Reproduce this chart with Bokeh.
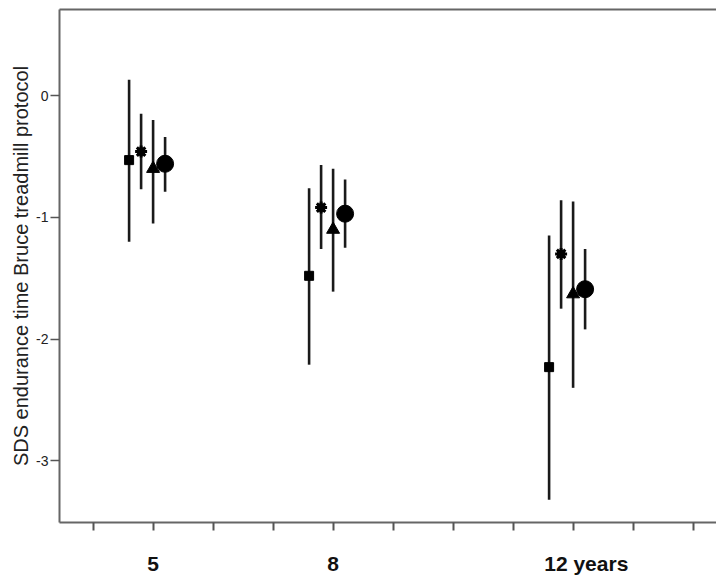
from bokeh.plotting import figure
from bokeh.models import Range1d, FixedTicker, LinearAxis
from bokeh.embed import file_html
from bokeh.resources import INLINE

# ---- data ----
ages = [5, 8, 12]
x_tick_positions = [4, 5, 6, 7, 8, 9, 10, 11, 12, 13, 14]
x_labels = {5: "5", 8: "8", 12.22: "12 years"}
y_ticks = [-3, -2, -1, 0]
y_labels = {-3: "-3", -2: "-2", -1: "-1", 0: "0"}

square_mean = [-0.53, -1.48, -2.23]
square_lo = [-1.20, -2.21, -3.32]
square_hi = [0.13, -0.76, -1.15]

star_mean = [-0.46, -0.92, -1.30]
star_lo = [-0.77, -1.26, -1.75]
star_hi = [-0.15, -0.57, -0.86]

tri_mean = [-0.60, -1.10, -1.63]
tri_lo = [-1.05, -1.61, -2.40]
tri_hi = [-0.20, -0.60, -0.87]

circ_mean = [-0.56, -0.97, -1.59]
circ_lo = [-0.79, -1.25, -1.92]
circ_hi = [-0.34, -0.69, -1.26]

# ---- figure ----
FONT = "Liberation Sans"
p = figure(width=716, height=581, output_backend="svg", toolbar_location=None,
           x_range=Range1d(3.44, 14.39), y_range=Range1d(-3.506, 0.707),
           min_border_top=9, min_border_right=0, min_border_left=59, min_border_bottom=59)
p.grid.visible = False
p.background_fill_color = "white"
p.border_fill_color = "white"
p.outline_line_color = None

xa = p.below[0]
ya = p.left[0]

groups = [
    (square_mean, square_lo, square_hi, -0.4, "square"),
    (star_mean, star_lo, star_hi, -0.2, "star"),
    (tri_mean, tri_lo, tri_hi, 0.0, "triangle"),
    (circ_mean, circ_lo, circ_hi, 0.2, "circle"),
]
for mean, lo, hi, off, kind in groups:
    xs = [a + off for a in ages]
    p.segment(x0=xs, y0=lo, x1=xs, y1=hi, line_color="#1a1a1a", line_width=2.6)
    if kind == "square":
        p.scatter(xs, mean, marker="square", size=9, color="black")
    elif kind == "star":
        p.scatter(xs, mean, marker="circle", size=8, color="black")
        p.scatter(xs, mean, marker="asterisk", size=12, line_color="black", line_width=3)
    elif kind == "triangle":
        p.scatter(xs, mean, marker="triangle", size=13, color="black")
    else:
        p.scatter(xs, mean, marker="circle", size=17, color="black")

# top frame line (axis without ticks or labels)
top = LinearAxis(ticker=FixedTicker(ticks=[]), major_tick_out=0, major_tick_in=0,
                 minor_tick_out=0, minor_tick_in=0,
                 major_label_text_font_size="0px", axis_line_color="#666666",
                 axis_line_width=2, major_label_standoff=0)
p.add_layout(top, "above")

# x axis
xa.ticker = FixedTicker(ticks=list(x_labels.keys()), minor_ticks=x_tick_positions)
xa.major_label_overrides = {k: v for k, v in x_labels.items()}
xa.major_tick_out = 0
xa.major_tick_in = 0
xa.minor_tick_out = 8
xa.minor_tick_in = 0
xa.minor_tick_line_color = "#555555"
xa.minor_tick_line_width = 2
xa.axis_line_color = "#666666"
xa.axis_line_width = 2
xa.major_label_standoff = 21
xa.major_label_text_font = FONT
xa.major_label_text_font_size = "21px"
xa.major_label_text_font_style = "bold"
xa.major_label_text_color = "#111111"

# y axis
ya.ticker = FixedTicker(ticks=y_ticks)
ya.major_label_overrides = {k: v for k, v in y_labels.items()}
ya.major_tick_out = 9
ya.major_tick_in = 0
ya.minor_tick_out = 0
ya.minor_tick_in = 0
ya.major_tick_line_color = "#555555"
ya.major_tick_line_width = 1.5
ya.axis_line_color = "#666666"
ya.axis_line_width = 2
ya.major_label_standoff = 2
ya.major_label_text_font = FONT
ya.major_label_text_font_size = "14px"
ya.major_label_text_font_style = "normal"
ya.major_label_text_color = "#222222"
ya.axis_label = "SDS endurance time Bruce treadmill protocol"
ya.axis_label_text_font = FONT
ya.axis_label_text_font_size = "20px"
ya.axis_label_text_font_style = "normal"
ya.axis_label_text_color = "#222222"
ya.axis_label_standoff = 1

open("out.html", "w").write(file_html(p, INLINE))
